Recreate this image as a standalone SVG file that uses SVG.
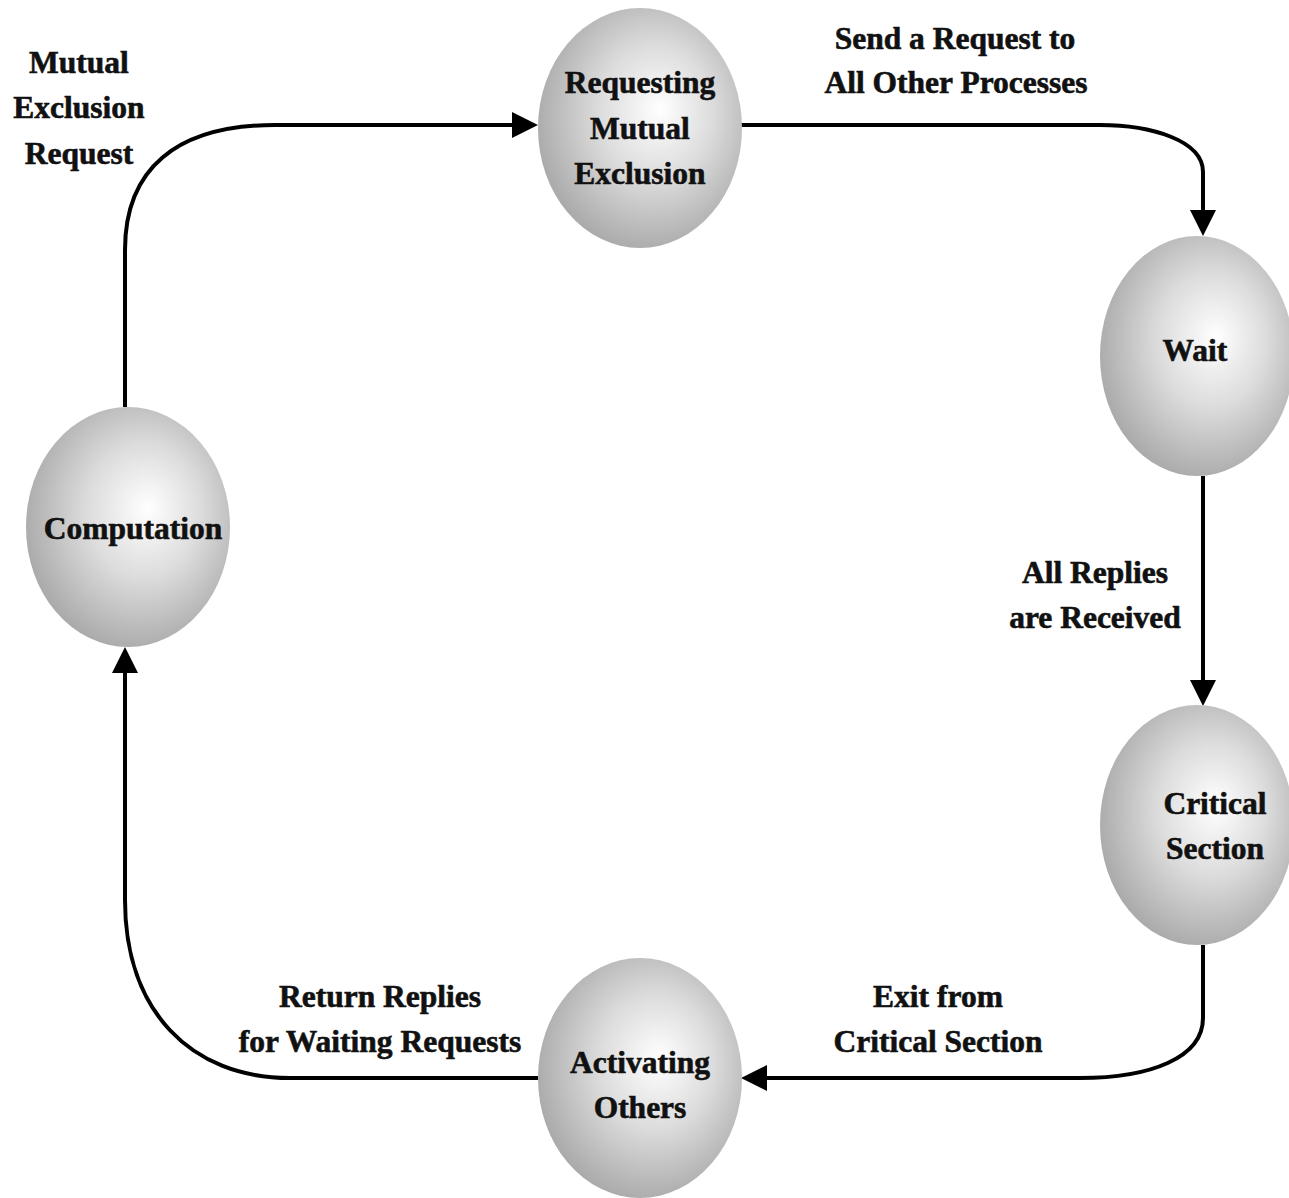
<svg xmlns="http://www.w3.org/2000/svg" width="1289" height="1198" viewBox="0 0 1289 1198">
<defs>
<radialGradient id="g" cx="0.55" cy="0.45" r="0.62" fx="0.6" fy="0.42">
<stop offset="0" stop-color="#ffffff"/>
<stop offset="0.45" stop-color="#dcdcdc"/>
<stop offset="1" stop-color="#a2a2a2"/>
</radialGradient>
</defs>
<style>
.n{fill:url(#g);stroke:none}
.t{font-family:"Liberation Serif","Times New Roman",serif;font-weight:bold;font-size:31.5px;fill:#111;stroke:#111;stroke-width:0.6;text-anchor:middle}
.c{fill:none;stroke:#000;stroke-width:4}
.a{fill:#000}
</style>
<rect width="1289" height="1198" fill="#fff"/>
<g id="connectors">
<path class="c" d="M125,407 V250 C125,170 175,125 275,125 H512"/>
<path class="a" d="M512,112 L538,125 L512,138 z"/>
<path class="c" d="M741,125 H1100 C1150,125 1203,140 1203,172 V210"/>
<path class="a" d="M1190,210 L1203,236 L1216,210 z"/>
<path class="c" d="M1203,476 V680"/>
<path class="a" d="M1190,680 L1203,706 L1216,680 z"/>
<path class="c" d="M1203,945 V1018 C1203,1058 1150,1078 1080,1078 H767"/>
<path class="a" d="M767,1065 L741,1078 L767,1091 z"/>
<path class="c" d="M538,1078 H290 C190,1078 125,1010 125,900 V673"/>
<path class="a" d="M112,673 L125,647 L138,673 z"/>
</g>
<g id="requesting">
<ellipse class="n" cx="640" cy="128" rx="102" ry="120"/>
<text class="t" x="640" y="93">Requesting</text>
<text class="t" x="640" y="139">Mutual</text>
<text class="t" x="640" y="184">Exclusion</text>
</g>
<g id="wait">
<ellipse class="n" cx="1197" cy="356" rx="97" ry="120"/>
<text class="t" x="1195" y="361">Wait</text>
</g>
<g id="critical">
<ellipse class="n" cx="1197" cy="825" rx="97" ry="120"/>
<text class="t" x="1215" y="814">Critical</text>
<text class="t" x="1215" y="859">Section</text>
</g>
<g id="activating">
<ellipse class="n" cx="640" cy="1078" rx="102" ry="120"/>
<text class="t" x="640" y="1073">Activating</text>
<text class="t" x="640" y="1118">Others</text>
</g>
<g id="computation">
<ellipse class="n" cx="128" cy="527" rx="102" ry="120"/>
<text class="t" x="133" y="539">Computation</text>
</g>
<g id="labels">
<text class="t" x="79" y="73">Mutual</text>
<text class="t" x="79" y="118">Exclusion</text>
<text class="t" x="79" y="164">Request</text>
<text class="t" x="955" y="49">Send a Request to</text>
<text class="t" x="956" y="93">All Other Processes</text>
<text class="t" x="1095" y="583">All Replies</text>
<text class="t" x="1095" y="628">are Received</text>
<text class="t" x="938" y="1007">Exit from</text>
<text class="t" x="938" y="1052">Critical Section</text>
<text class="t" x="380" y="1007">Return Replies</text>
<text class="t" x="380" y="1052">for Waiting Requests</text>
</g>
</svg>
